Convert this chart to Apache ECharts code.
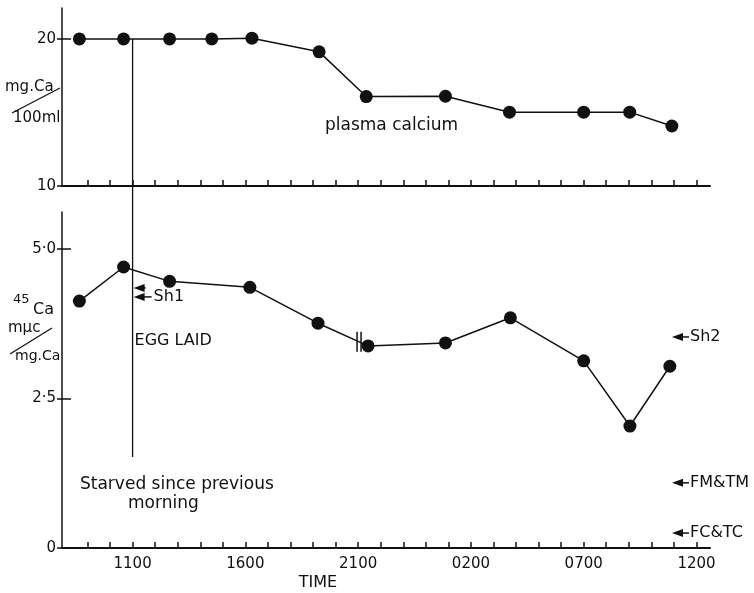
<!DOCTYPE html>
<html>
<head>
<meta charset="utf-8">
<script src="https://cdn.jsdelivr.net/npm/echarts@6/dist/echarts.min.js"></script>
<style>
  html, body { margin: 0; padding: 0; background: #fff; }
  #chart { width: 754px; height: 593px; }
</style>
</head>
<body>
<div id="chart"></div>
<script>
// Sampling times in hours from midnight of the first day (values above 24 fall on the next day)
const plasmaTimes   = [8.64, 10.6, 12.64, 14.51, 16.29, 19.27, 21.36, 24.87, 27.71, 31.0, 33.04, 34.91];
// Plasma calcium, mg Ca / 100 ml
const plasmaCalcium = [20, 20, 20, 20, 20.05, 19.12, 16.08, 16.1, 15.02, 15.02, 15.02, 14.08];

const ca45Times = [8.64, 10.6, 12.64, 16.2, 19.22, 21.44, 24.87, 27.75, 31.0, 33.05, 34.82];
// 45Ca specific activity, mµc / mg Ca
const ca45Ratio = [4.13, 4.70, 4.46, 4.36, 3.76, 3.38, 3.43, 3.85, 3.13, 2.04, 3.04];

// Time axis labels (24 h clock)
const timeTickHours  = [11, 16, 21, 26, 31, 36];
const timeTickLabels = ['1100', '1600', '2100', '0200', '0700', '1200'];
const hourTicks = [];
for (let h = 9; h <= 36; h++) hourTicks.push(h);

// Value axis ticks
const plasmaTicks = [10, 20];
const ca45Ticks = [0, 2.5, 5];
const ca45TickLabels = ['0', '2·5', '5·0'];

// Tissue reference levels marked on the right / at the egg line
const tissueNames  = ['Sh2', 'FM&TM', 'FC&TC'];
const tissueLevels = [3.53, 1.09, 0.25];
const sh1Levels    = [4.35, 4.20];

const eggLaidHour = 11;
const breakHour = 21.04, breakLevel = 3.45;

const ink = '#111';
const FONT = '"DejaVu Sans", sans-serif';

const chart = echarts.init(document.getElementById('chart'), null, { renderer: 'canvas' });

const xBase = {
  type: 'value', min: 7.87, max: 36.6,
  axisLine: { onZero: false, lineStyle: { color: ink, width: 2 } },
  axisTick: { inside: true, length: 6, customValues: hourTicks, lineStyle: { color: ink, width: 1.5 } },
  splitLine: { show: false }
};

const yLabel = { color: ink, fontFamily: FONT, fontSize: 15, margin: 6 };
const yLine = { onZero: false, lineStyle: { color: ink, width: 1.5 } };

function yPair(grid, min, max, ticks, fmt) {
  return [
    { gridIndex: grid, position: 'left', type: 'value', min, max,
      axisLine: yLine,
      axisTick: { length: 5, customValues: ticks, lineStyle: { color: ink, width: 1.5 } },
      axisLabel: Object.assign({}, yLabel, { customValues: ticks, formatter: fmt }),
      splitLine: { show: false } },
    { gridIndex: grid, position: 'left', type: 'value', min, max,
      axisLine: { show: false },
      axisTick: { inside: true, length: 9, customValues: ticks.filter(v => v !== min), lineStyle: { color: ink, width: 1.5 } },
      axisLabel: { show: false }, splitLine: { show: false } }
  ];
}

const option = {
  animation: false,
  backgroundColor: '#fff',
  grid: [
    { left: 62, width: 648, top: 8, height: 178 },
    { left: 62, width: 648, top: 212, height: 336 }
  ],
  xAxis: [
    Object.assign({}, xBase, { gridIndex: 0, axisLabel: { show: false } }),
    Object.assign({}, xBase, {
      gridIndex: 1,
      axisLabel: {
        customValues: timeTickHours,
        formatter: v => timeTickLabels[timeTickHours.indexOf(v)],
        color: ink, fontFamily: FONT, fontSize: 15, margin: 9
      }
    })
  ],
  yAxis: [
    ...yPair(0, 10, 22.1, plasmaTicks, v => String(v)),
    ...yPair(1, 0, 5.62, ca45Ticks, v => ca45TickLabels[ca45Ticks.indexOf(v)])
  ],
  series: [
    {
      name: 'plasma calcium', type: 'line', xAxisIndex: 0, yAxisIndex: 0,
      data: plasmaTimes.map((t, i) => [t, plasmaCalcium[i]]),
      symbol: 'circle', symbolSize: 13,
      lineStyle: { color: ink, width: 1.5 }, itemStyle: { color: ink }
    },
    {
      name: '45Ca', type: 'line', xAxisIndex: 1, yAxisIndex: 2,
      data: ca45Times.map((t, i) => [t, ca45Ratio[i]]),
      symbol: 'circle', symbolSize: 13,
      lineStyle: { color: ink, width: 1.5 }, itemStyle: { color: ink }
    }
  ]
};

chart.setOption(option);

function txt(text, x, y, size, align) {
  return {
    type: 'text', silent: true,
    style: { text, x, y, font: size + 'px ' + FONT, fill: ink, align: align || 'left', verticalAlign: 'middle' }
  };
}
function seg(x1, y1, x2, y2, w) {
  return { type: 'line', silent: true, shape: { x1, y1, x2, y2 }, style: { stroke: ink, lineWidth: w || 1.3 } };
}
function arrow(tipX, y, endX) {
  return [
    { type: 'polygon', silent: true, shape: { points: [[tipX, y], [tipX + 11, y - 4], [tipX + 11, y + 4]] }, style: { fill: ink } },
    seg(tipX + 9, y, endX, y, 1.5)
  ];
}

const px = (h) => chart.convertToPixel({ xAxisIndex: 0 }, h);
const pyTop = (v) => chart.convertToPixel({ yAxisIndex: 0 }, v);
const pyBot = (v) => chart.convertToPixel({ yAxisIndex: 2 }, v);

const eggX = px(eggLaidHour);
const g = [];

// Egg-laying line crossing both panels
g.push(seg(eggX, pyTop(20), eggX, pyBot(1.52), 1.3));

// Break in the 45Ca curve
const bx = px(breakHour), by = pyBot(breakLevel);
g.push(seg(bx - 2, by - 10, bx - 2, by + 10, 1.5));
g.push(seg(bx + 2, by - 10, bx + 2, by + 10, 1.5));

// Sh1 arrows at the egg line
g.push(...arrow(eggX + 1, pyBot(sh1Levels[0]), eggX + 13));
g.push(...arrow(eggX + 1, pyBot(sh1Levels[1]), eggX + 19));
g.push(txt('Sh1', eggX + 21, pyBot(sh1Levels[1]), 16));

// Tissue levels on the right
tissueNames.forEach((name, i) => {
  const y = pyBot(tissueLevels[i]);
  g.push(...arrow(672, y, 689));
  g.push(txt(name, 690, y, 16));
});

// Annotations
g.push(txt('plasma calcium', 325, 126, 17));
g.push(txt('EGG LAID', eggX + 2, 341, 16));
g.push(txt('Starved since previous', 80, 485, 17));
g.push(txt('morning', 128, 504, 17));
g.push(txt('TIME', 318, 583, 16, 'center'));

// Axis titles
g.push(txt('mg.Ca', 5, 87, 15));
g.push(txt('100ml', 13, 118, 15));
g.push(seg(12, 113, 60, 88, 1.3));

g.push(txt('45', 13, 300, 13));
g.push(txt('Ca', 33, 310, 16));
g.push(txt('mμc', 8, 328, 15));
g.push(txt('mg.Ca', 15, 356, 14));
g.push(seg(10, 354, 52, 328, 1.3));

chart.setOption({ graphic: g });
</script>
</body>
</html>
